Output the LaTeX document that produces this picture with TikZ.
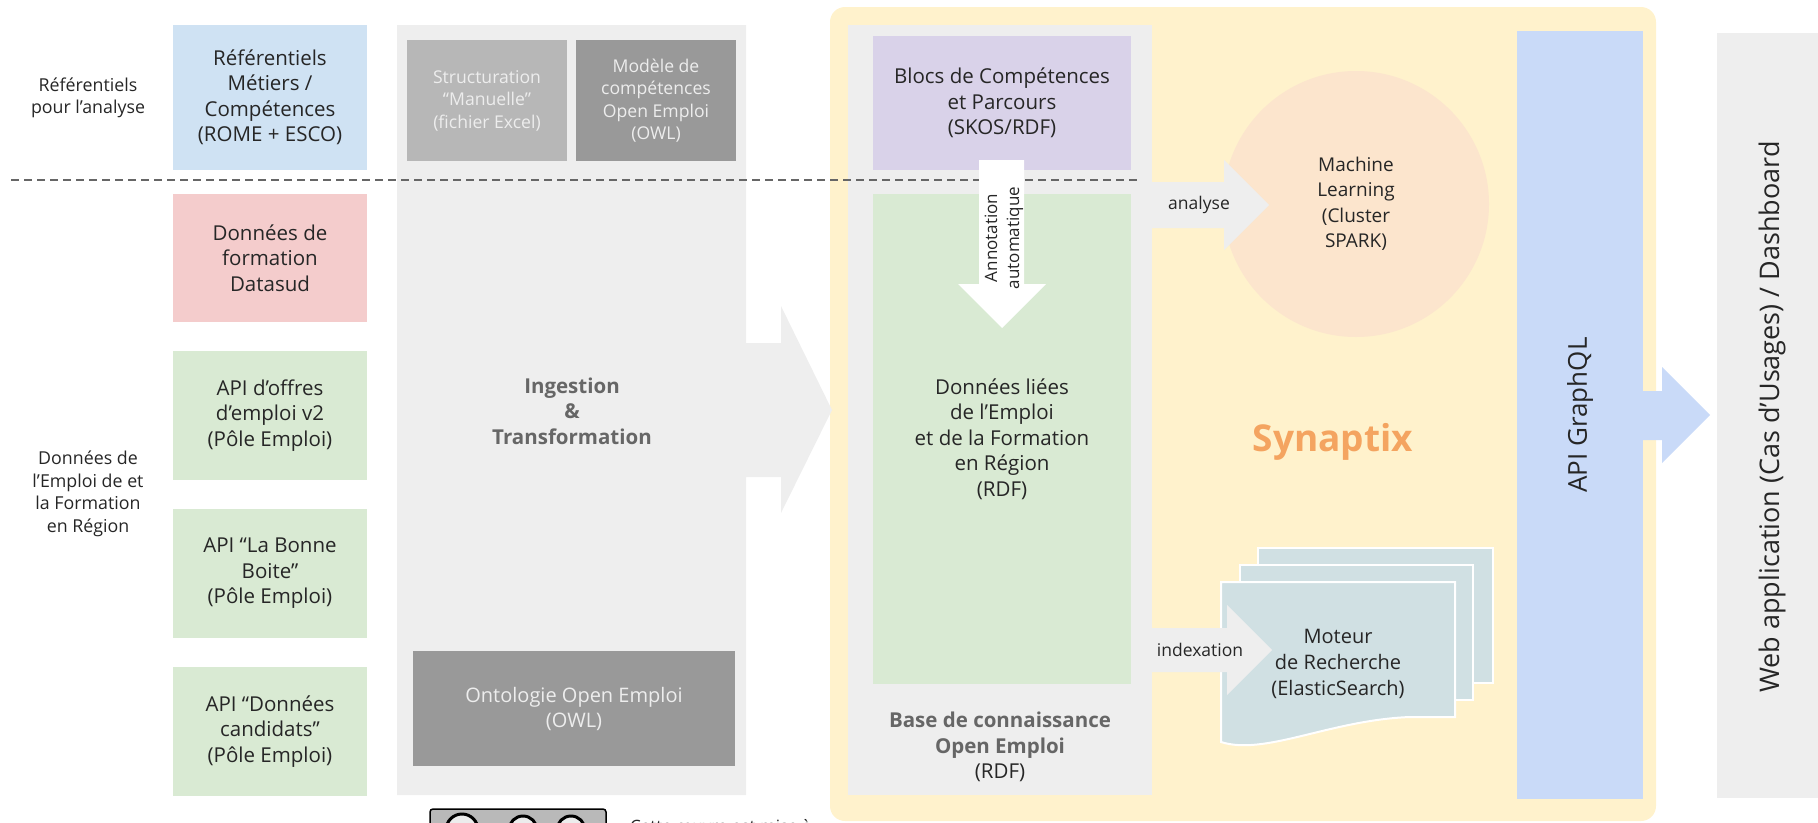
\documentclass[tikz,border=0pt]{standalone}
\usepackage{fontspec}
\setmainfont{Open Sans}
\newcommand{\fsz}[2]{\fontsize{#1}{#2}\selectfont}
\definecolor{txt}{HTML}{262626}
\definecolor{panel}{HTML}{EEEEEE}
\definecolor{blu}{HTML}{CFE2F3}
\definecolor{pnk}{HTML}{F4CCCC}
\definecolor{grn}{HTML}{D9EAD3}
\definecolor{gA}{HTML}{B7B7B7}
\definecolor{gB}{HTML}{999999}
\definecolor{yel}{HTML}{FFF2CC}
\definecolor{pur}{HTML}{D9D2E9}
\definecolor{peach}{HTML}{FCE5CD}
\definecolor{orng}{HTML}{F4A460}
\definecolor{docc}{HTML}{D0E0E3}
\definecolor{apib}{HTML}{C9DAF8}
\definecolor{dk}{HTML}{666666}
\tikzset{
  box/.style={inner sep=0pt, align=center, text=txt, font=\fsz{20.5}{25.5}},
  sidelbl/.style={inner sep=0pt, align=center, text=txt, font=\fsz{17.8}{22.5}},
  greybox/.style={inner sep=0pt, align=center, text=white!93!black, font=\fsz{17.6}{22.5}},
  boldlbl/.style={inner sep=0pt, align=center, text=dk, font=\fsz{20.5}{25.5}\bfseries},
  arrlbl/.style={inner sep=0pt, align=center, text=txt, font=\fsz{17.5}{22}},
  sheet/.style={fill=docc, draw=white, line width=2pt},
}
\begin{document}
\begin{tikzpicture}[x=1pt,y=-1pt]
\useasboundingbox (0,0) rectangle (1818,822);
\clip (0,0) rectangle (1818,822);

% background panels
\fill[yel, rounded corners=15pt] (830,7) rectangle (1656,821);
\fill[panel] (397,25) -- (746,25) -- (746,343) -- (781,343) -- (781,306) -- (832,410)
   -- (781,513) -- (781,477) -- (746,477) -- (746,795) -- (397,795) -- cycle;
\fill[panel] (848,25) rectangle (1152,795);
\fill[panel] (1717,33) rectangle (1830,798);

% dashed separator
\draw[dk, line width=2pt, dash pattern=on 8pt off 5pt] (11,180) -- (1140,180);

% side labels
\node[sidelbl] (lblref) at (88,98) {Référentiels\\pour l’analyse};
\node[sidelbl] (lbldata) at (88,494) {Données de\\l’Emploi de et\\la Formation\\en Région};

% source boxes
\node[box, fill=blu, minimum width=194, minimum height=145] (ref) at (270,97.5)
  {Référentiels\\Métiers /\\Compétences\\(ROME + ESCO)};
\node[box, fill=pnk, minimum width=194, minimum height=128] (datasud) at (270,258)
  {Données de\\formation\\Datasud};
\node[box, fill=grn, minimum width=194, minimum height=129] (apiA) at (270,415.5)
  {API d’offres\\d’emploi v2\\(Pôle Emploi)};
\node[box, fill=grn, minimum width=194, minimum height=129] (apiB) at (270,573.5)
  {API “La Bonne\\Boite”\\(Pôle Emploi)};
\node[box, fill=grn, minimum width=194, minimum height=129] (apiC) at (270,731.5)
  {API “Données\\candidats”\\(Pôle Emploi)};

% ingestion
\node[greybox, fill=gA, minimum width=160, minimum height=121] (struct) at (487,100.5)
  {Structuration\\“Manuelle”\\(fichier Excel)};
\node[greybox, fill=gB, minimum width=160, minimum height=121] (modele) at (656,100.5)
  {Modèle de\\compétences\\Open Emploi\\(OWL)};
\node[greybox, fill=gB, minimum width=322, minimum height=115, font=\fsz{20}{25}] (onto) at (574,708.5)
  {Ontologie Open Emploi\\(OWL)};
\node[boldlbl] (ingest) at (572,411) {Ingestion\\\&\\Transformation};

% knowledge base
\node[box, fill=pur, minimum width=258, minimum height=134] (blocs) at (1002,103)
  {Blocs de Compétences\\et Parcours\\(SKOS/RDF)};
\node[box, fill=grn, minimum width=258, minimum height=490] (liees) at (1002,439)
  {Données liées\\de l’Emploi\\et de la Formation\\en Région\\(RDF)};
\node[boldlbl] (kb) at (1000,747) {Base de connaissance\\Open Emploi\\\mdseries\color{txt}(RDF)};

% annotation arrow
\fill[white] (979,160) -- (1024,160) -- (1024,284) -- (1046,284) -- (1002,328)
   -- (958,284) -- (979,284) -- cycle;
\node[arrlbl, rotate=90, font=\fsz{17}{22}] (annot) at (1004,238) {Annotation\\automatique};

% machine learning
\node[circle, fill=peach, minimum size=266, inner sep=0pt, align=center, text=txt,
  font=\fsz{19}{25.5}] (ml) at (1356,204) {Machine\\Learning\\(Cluster\\SPARK)};
\fill[panel] (1150,182) -- (1224,182) -- (1224,160) -- (1269,205) -- (1224,250)
   -- (1224,228) -- (1150,228) -- cycle;
\node[arrlbl] (analyse) at (1199,205) {analyse};

% Synaptix
\node[inner sep=0pt, text=orng, font=\fsz{37}{42}\bfseries] (syn) at (1333,442) {Synaptix};

% search engine documents
\path[sheet] (1258,548) rectangle (1493,683);
\path[sheet] (1240,565) rectangle (1473,700);
\path[sheet] (1221,582) -- (1455,582) -- (1455,717) -- (1410,717)
   .. controls (1330,720) and (1265,756) .. (1221,742) -- cycle;
\node[box, font=\fsz{20}{26}] (moteur) at (1338,664) {Moteur\\de Recherche\\(ElasticSearch)};
\fill[panel] (1150,628) -- (1227,628) -- (1227,605) -- (1272,650) -- (1227,695)
   -- (1227,672) -- (1150,672) -- cycle;
\node[arrlbl] (index) at (1200,650) {indexation};

% API GraphQL
\node[fill=apib, minimum width=126, minimum height=768, inner sep=0pt] (api) at (1580,415) {};
\node[rotate=90, inner sep=0pt, text=txt, font=\fsz{26}{30}] (apitxt) at (api.center) {API GraphQL};
\fill[apib] (1640,391) -- (1662,391) -- (1662,367) -- (1710,415) -- (1662,463)
   -- (1662,440) -- (1640,440) -- cycle;

% web app
\node[rotate=90, inner sep=0pt, text=txt, font=\fsz{27}{30}] (web) at (1772,417)
  {Web application (Cas d’Usages) / Dashboard};

% licence badge (cut by page edge)
\draw[fill=gray!55, line width=1.5pt, rounded corners=3pt] (430,809) rectangle (606,850);
\draw[fill=white!85!gray, line width=3pt] (462,830) circle (16);
\draw[fill=white!85!gray, line width=3pt] (523,830) circle (14);
\draw[fill=white!85!gray, line width=3pt] (571,830) circle (14);
\node[anchor=north west, inner sep=0pt, text=txt, font=\fsz{17}{20}] (cc) at (630,819)
  {Cette œuvre est mise à};
\end{tikzpicture}
\end{document}
